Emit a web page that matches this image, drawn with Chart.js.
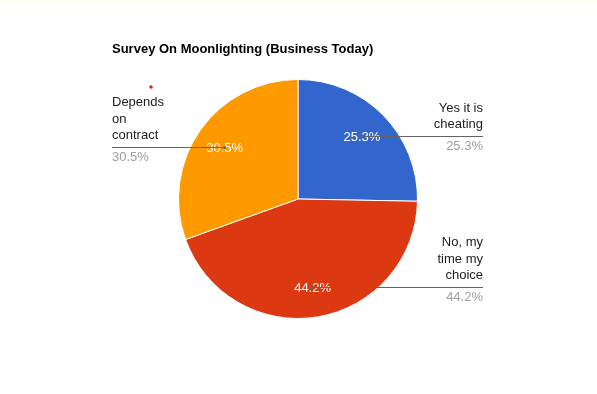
<!DOCTYPE html>
<html>
<head>
<meta charset="utf-8">
<script src="https://cdn.jsdelivr.net/npm/chart.js@4"></script>
<style>
	html, body { margin: 0; padding: 0; background: #fff; }
	body { width: 597px; height: 394px; overflow: hidden; position: relative; }
	#topStrip { position: absolute; left: 0; top: 0; width: 597px; height: 3px; background: #fafff3; }
	#chartBox { position: absolute; left: 0; top: 0; width: 597px; height: 394px; }
</style>
</head>
<body>
<div id="chartBox"><canvas id="pieChart" width="597" height="394"></canvas></div>
<div id="topStrip"></div>
<script>
const TITLE		= "Survey On Moonlighting (Business Today)";
const categories	= [ [ "Yes it is", "cheating" ], [ "No, my", "time my", "choice" ], [ "Depends", "on", "contract" ] ];
const shares		= [ 25.3, 44.2, 30.5 ];
const colours		= [ "#3366cc", "#dc3912", "#ff9900" ];

const FONT	= "'Liberation Sans', Arial, sans-serif";

// google-style labels : leader line from inside the slice out to a text column
const sideLabels = {
	id: "sideLabels",
	afterDatasetsDraw( chart ) {
		const ctx	= chart.ctx;
		const area	= chart.chartArea;
		const meta	= chart.getDatasetMeta( 0 );
		const vals	= chart.data.datasets[ 0 ].data;

		ctx.save();

		// title
		ctx.font		= "bold 13px " + FONT;
		ctx.fillStyle	= "#000";
		ctx.textAlign	= "left";
		ctx.textBaseline	= "alphabetic";
		ctx.fillText( TITLE, area.left - 66, 53 );

		// small red mark seen above the left label
		ctx.fillStyle	= "#e3201b";
		ctx.beginPath();
		ctx.arc( area.left - 27, area.top + 8, 1.8, 0, Math.PI * 2 );
		ctx.fill();

		meta.data.forEach( ( arc, i ) => {
			const p		= arc.getProps( [ "x", "y", "startAngle", "endAngle", "outerRadius" ], true );
			const mid	= ( p.startAngle + p.endAngle ) / 2;
			const ax	= p.x + Math.cos( mid ) * p.outerRadius * 0.75;
			const ay	= p.y + Math.sin( mid ) * p.outerRadius * 0.75;
			const right	= Math.cos( mid ) >= 0;
			const colX	= right ? area.right + 65 : area.left - 66;
			const txt	= vals[ i ].toFixed( 1 ) + "%";

			// percent inside the slice
			ctx.font		= "13px " + FONT;
			ctx.fillStyle	= "#fff";
			ctx.textAlign	= "center";
			ctx.textBaseline	= "middle";
			ctx.fillText( txt, ax, ay + 1 );

			// leader line
			ctx.strokeStyle	= "#636363";
			ctx.lineWidth	= 1;
			ctx.beginPath();
			ctx.moveTo( ax, Math.round( ay ) + 0.5 );
			ctx.lineTo( colX, Math.round( ay ) + 0.5 );
			ctx.stroke();

			ctx.fillStyle	= "#636363";
			ctx.beginPath();
			ctx.arc( ax, Math.round( ay ) + 0.5, 1.6, 0, Math.PI * 2 );
			ctx.fill();

			// category text above the line, percent below
			const lines	= chart.data.labels[ i ];
			ctx.textAlign	= right ? "right" : "left";
			ctx.textBaseline	= "alphabetic";
			ctx.fillStyle	= "#222";
			for ( let k = 0; k < lines.length; k++ ) {
				const y	= Math.round( ay ) - 8 - ( lines.length - 1 - k ) * 16.5;
				ctx.fillText( lines[ k ], colX, y );
			}
			ctx.fillStyle	= "#9e9e9e";
			ctx.fillText( txt, colX, Math.round( ay ) + 14 );
		} );

		ctx.restore();
	}
};

window.addEventListener( "load", function () {
	const ctx = document.getElementById( "pieChart" );

	new Chart( ctx, {
		type: "pie",
		data: {
			labels: categories,
			datasets: [ {
				data: shares,
				backgroundColor: colours,
				borderColor: "#ffffff",
				borderWidth: 1,
				hoverOffset: 0
			} ]
		},
		options: {
			responsive: false,
			animation: false,
			events: [],
			layout: { padding: { top: 79, bottom: 75, left: 178, right: 179 } },
			plugins: {
				legend: { display: false },
				tooltip: { enabled: false },
				title: { display: false }
			}
		},
		plugins: [ sideLabels ]
	} );
} );
</script>
</body>
</html>
